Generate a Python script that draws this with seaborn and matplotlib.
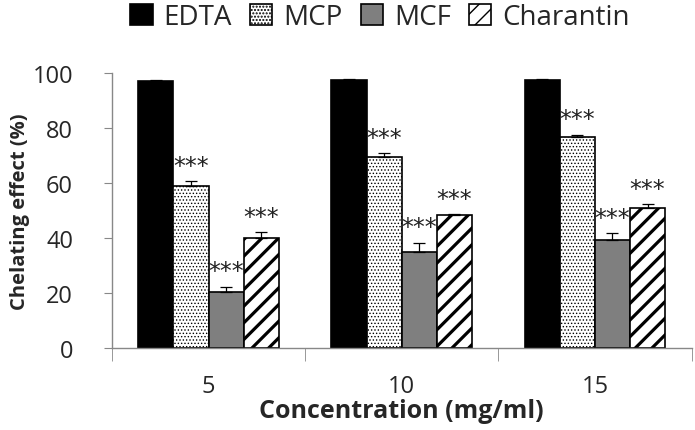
import pandas as pd
import seaborn as sns
import matplotlib
matplotlib.use('Agg')
import matplotlib.pyplot as plt

# values
concentrations = ['5', '10', '15']
samples = ['EDTA', 'MCP', 'MCF', 'Charantin']
edta = [97.2, 97.5, 97.5]
mcp = [59.1, 69.6, 76.8]
mcf = [20.3, 35.1, 39.4]
charantin = [40.1, 48.5, 50.8]
edta_err = [0.3, 0.2, 0.2]
mcp_err = [1.6, 1.4, 0.8]
mcf_err = [2.0, 3.2, 2.5]
charantin_err = [2.0, 0.3, 1.6]
stars = ['', '***', '***', '***']

values = {'EDTA': edta, 'MCP': mcp, 'MCF': mcf, 'Charantin': charantin}
errors = {'EDTA': edta_err, 'MCP': mcp_err, 'MCF': mcf_err, 'Charantin': charantin_err}

rows = []
for s in samples:
    for c, v in zip(concentrations, values[s]):
        rows.append({'Concentration': c, 'Sample': s, 'Effect': v})
df = pd.DataFrame(rows)

sns.set_style('white')
plt.rcParams['font.family'] = ['Open Sans', 'DejaVu Sans']

fig = plt.figure(figsize=(6.95, 4.31), dpi=100)
ax = fig.add_axes([0.161, 0.19, 0.834, 0.638])

sns.barplot(data=df, x='Concentration', y='Effect', hue='Sample',
            order=concentrations, hue_order=samples, width=0.727,
            palette=['black', 'white', '#7f7f7f', 'white'],
            edgecolor='black', linewidth=1.2, saturation=1, errorbar=None, ax=ax)

styles = {
    'EDTA': dict(hatch=None, hcolor='black', hlw=1.0),
    'MCP': dict(hatch='.....', hcolor='#8a8a8a', hlw=0.6),
    'MCF': dict(hatch=None, hcolor='black', hlw=1.0),
    'Charantin': dict(hatch='//', hcolor='black', hlw=2.3),
}

for cont, s in zip(ax.containers, samples):
    st = styles[s]
    for i, p in enumerate(cont.patches):
        if st['hatch']:
            p.set_hatch(st['hatch'])
            if hasattr(p, 'set_hatchcolor'):
                p.set_hatchcolor(st['hcolor'])
            if hasattr(p, 'set_hatch_linewidth'):
                p.set_hatch_linewidth(st['hlw'])
            else:
                p._hatch_linewidth = st['hlw']
        x = p.get_x() + p.get_width() / 2
        top = p.get_height()
        err = errors[s][i]
        ax.errorbar(x, top, yerr=[[0], [err]], fmt='none', ecolor='black',
                    elinewidth=0.9, capsize=4, capthick=0.9, zorder=3)
        if stars[samples.index(s)]:
            ax.annotate(stars[samples.index(s)], xy=(x, top + err), xytext=(0, 6),
                        textcoords='offset points', ha='center', va='baseline',
                        fontsize=17, family='DejaVu Sans', color='#222222')

ax.get_legend().remove()
fig.legend(handles=ax.containers, labels=samples, loc='upper center',
           bbox_to_anchor=(0.547, 1.0), ncol=4, frameon=False, fontsize=20,
           handlelength=0.8, handleheight=0.75, handletextpad=0.4,
           columnspacing=0.65, borderaxespad=0, borderpad=0.15)

ax.set_ylim(0, 100)
ax.set_xlim(-0.5, 2.5)
ax.set_yticks([0, 20, 40, 60, 80, 100])
ax.tick_params(axis='y', labelsize=17, length=6, color='#888888', left=True, pad=22)
ax.set_xticks([-0.5, 0.5, 1.5, 2.5], minor=True)
ax.tick_params(axis='x', which='major', labelsize=17, length=0, pad=19)
ax.tick_params(axis='x', which='minor', length=9, color='#888888', bottom=True)

for side in ['top', 'right']:
    ax.spines[side].set_visible(False)
for side in ['left', 'bottom']:
    ax.spines[side].set_color('#888888')
    ax.spines[side].set_linewidth(1)

ax.set_xlabel('Concentration (mg/ml)', fontsize=18, fontweight='bold', labelpad=0)
ax.set_ylabel('Chelating effect (%)', fontsize=14.5, fontweight='bold', labelpad=2)

fig.savefig('out.png', dpi=100)
